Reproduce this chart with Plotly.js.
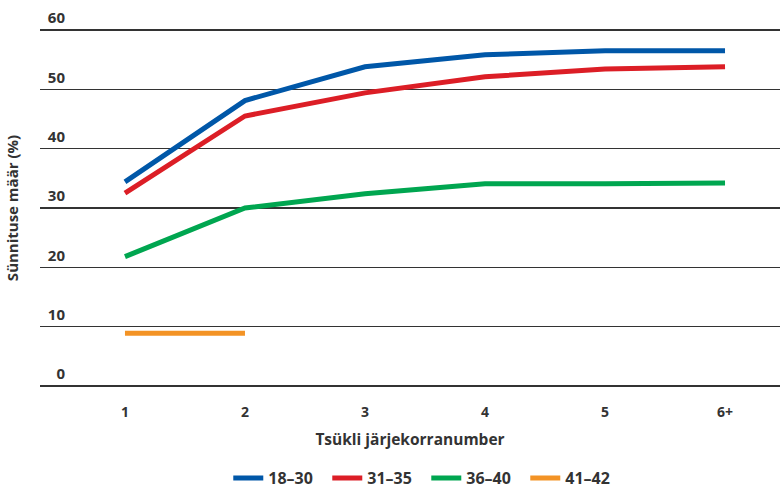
<!DOCTYPE html>
<html>
<head>
<meta charset="utf-8">
<script src="https://cdn.plot.ly/plotly-3.0.1.min.js"></script>
<style>html,body{margin:0;padding:0;background:#fff;}#chart{width:780px;height:488px;}</style>
</head>
<body>
<div id="chart"></div>
<script>
const categories = ["1", "2", "3", "4", "5", "6+"];
const seriesNames = ["18–30", "31–35", "36–40", "41–42"];
const s18_30 = [34.4, 48.1, 53.8, 55.8, 56.5, 56.5];
const s31_35 = [32.5, 45.5, 49.4, 52.1, 53.4, 53.8];
const s36_40 = [21.8, 30.0, 32.4, 34.1, 34.1, 34.2];
const s41_42 = [8.9, 8.9, null, null, null, null];
const yTicks = [0, 10, 20, 30, 40, 50, 60];
const colors = ["#0057a8", "#dc1e26", "#00a650", "#f39325"];

const allSeries = [s18_30, s31_35, s36_40, s41_42];
const traces = allSeries.map((vals, i) => ({
  type: "scatter",
  mode: "lines",
  x: categories,
  y: vals,
  name: seriesNames[i],
  line: {color: colors[i], width: 5},
  connectgaps: false,
  hoverinfo: "skip"
}));

const fam = "Open Sans, DejaVu Sans, sans-serif";
const txt = "#333333";

const layout = {
  width: 780, height: 488,
  margin: {l: 40, r: 0, t: 24, b: 96, autoexpand: false},
  paper_bgcolor: "#ffffff",
  plot_bgcolor: "#ffffff",
  font: {family: fam, size: 14, color: txt},
  showlegend: true,
  legend: {
    orientation: "h", x: 0.522, xanchor: "center", y: -0.234, yanchor: "middle",
    font: {family: fam, size: 16, color: txt, weight: "bold"},
    entrywidth: 54, entrywidthmode: "pixels",
    tracegroupgap: 0
  },
  xaxis: {
    type: "category",
    range: [-0.708, 5.458],
    showgrid: false, zeroline: false, showline: false, ticks: "",
    tickfont: {family: fam, size: 14, color: txt, weight: "bold"},
    ticklabelstandoff: 10,
    title: {text: "Tsükli järjekorranumber", font: {family: fam, size: 15.5, color: txt, weight: "bold"}, standoff: 14}
  },
  yaxis: {
    range: [-1, 61],
    tickvals: yTicks,
    ticktext: yTicks.map(String),
    showgrid: true, gridcolor: "#333333", gridwidth: 1.2,
    zeroline: false, showline: false, ticks: "",
    tickfont: {family: fam, size: 15, color: txt, weight: "bold"},
    ticklabelstandoff: -26,
    ticklabelshift: -12,
    title: {text: "Sünnituse määr (%)", font: {family: fam, size: 15, color: txt, weight: "bold"}, standoff: 25}
  }
};

Plotly.newPlot("chart", traces, layout, {displayModeBar: false, staticPlot: true});
</script>
</body>
</html>
